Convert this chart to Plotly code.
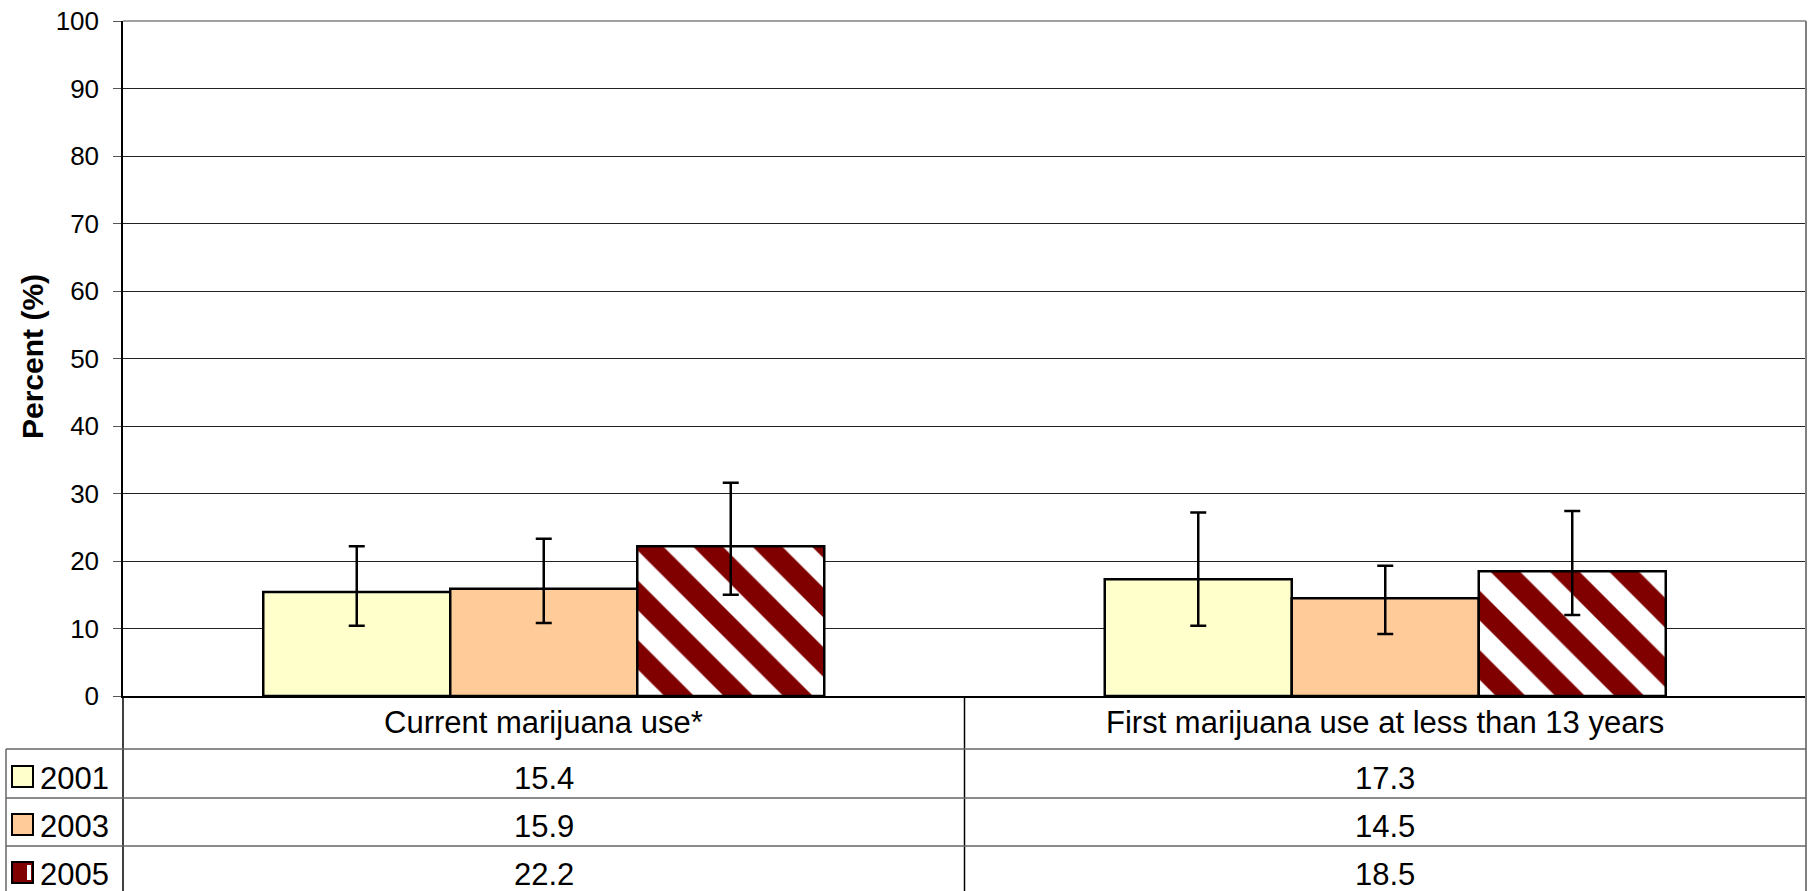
import plotly.graph_objects as go

categories = ["Current marijuana use*", "First marijuana use at less than 13 years"]
years = ["2001", "2003", "2005"]
values = {
    "2001": [15.4, 17.3],
    "2003": [15.9, 14.5],
    "2005": [22.2, 18.5],
}
ci_upper = {
    "2001": [22.2, 27.2],
    "2003": [23.3, 19.3],
    "2005": [31.6, 27.4],
}
ci_lower = {
    "2001": [10.4, 10.4],
    "2003": [10.8, 9.2],
    "2005": [15.0, 12.0],
}
y_ticks = [0, 10, 20, 30, 40, 50, 60, 70, 80, 90, 100]

FONT = "Liberation Sans, Arial, sans-serif"
W, H = 1813, 891
L, R, T, B = 123, 7, 21, 195
PW, PH = W - L - R, H - T - B
TFS = 31


def px(xpix):
    return (xpix - L) / PW


def py(ypix):
    return (T + PH - ypix) / PH


fig = go.Figure()
styles = {
    "2001": dict(color="#FFFFCC"),
    "2003": dict(color="#FFCC99"),
    "2005": dict(color="white", pattern=dict(shape="\\", fgcolor="#800000", bgcolor="white",
                                              size=42, solidity=0.5, fillmode="replace")),
}
for yr in years:
    v = values[yr]
    up = [u - a for u, a in zip(ci_upper[yr], v)]
    lo = [a - l for l, a in zip(ci_lower[yr], v)]
    fig.add_trace(go.Bar(
        x=categories, y=v, name=yr,
        marker=dict(**styles[yr], line=dict(color="black", width=2.5)),
        error_y=dict(type="data", symmetric=False, array=up, arrayminus=lo,
                     color="black", thickness=2.5, width=8),
    ))

shapes = []
line_black = dict(color="black", width=1.5)
line_grey = dict(color="#666666", width=1.5)
bottom = py(H + 2)
# outer right border (plot + table)
shapes.append(dict(type="line", xref="paper", yref="paper", x0=1, x1=1, y0=1, y1=bottom, line=dict(color="#808080", width=2)))
# top border
shapes.append(dict(type="line", xref="paper", yref="paper", x0=0, x1=1, y0=1, y1=1, line=dict(color="#808080", width=1.5)))
# left axis extension through table
shapes.append(dict(type="line", xref="paper", yref="paper", x0=0, x1=0, y0=0, y1=bottom, line=line_black))
# category divider
shapes.append(dict(type="line", xref="paper", yref="paper", x0=0.5, x1=0.5, y0=0, y1=bottom, line=line_black))
# table left edge
shapes.append(dict(type="line", xref="paper", yref="paper", x0=px(6), x1=px(6), y0=py(749), y1=bottom, line=line_grey))
# row lines
for rowy in [749, 798, 846]:
    shapes.append(dict(type="line", xref="paper", yref="paper", x0=px(6), x1=1, y0=py(rowy), y1=py(rowy), line=line_grey))

annotations = []
# category labels
for i, c in enumerate(categories):
    annotations.append(dict(x=c, xref="x", y=py(722), yref="paper", text=c, showarrow=False,
                            xanchor="center", yanchor="middle", font=dict(family=FONT, size=TFS, color="black")))
# table rows
row_centers = [778, 826, 874]
legend_colors = {"2001": "#FFFFCC", "2003": "#FFCC99", "2005": "#800000"}
for r, yr in enumerate(years):
    yc = row_centers[r]
    for i, c in enumerate(categories):
        annotations.append(dict(x=c, xref="x", y=py(yc), yref="paper", text=f"{values[yr][i]:.1f}",
                                showarrow=False, xanchor="center", yanchor="middle",
                                font=dict(family=FONT, size=TFS, color="black")))
    annotations.append(dict(x=px(38), xref="paper", y=py(yc), yref="paper", text=yr, showarrow=False,
                            xanchor="left", yanchor="middle", font=dict(family=FONT, size=TFS, color="black")))
    sq_top = yc - 12
    shapes.append(dict(type="rect", xref="paper", yref="paper", x0=px(12), x1=px(33), y0=py(sq_top + 21), y1=py(sq_top),
                       fillcolor=legend_colors[yr], line=dict(color="black", width=2)))
    if yr == "2005":
        shapes.append(dict(type="rect", xref="paper", yref="paper", x0=px(27), x1=px(31), y0=py(sq_top + 18), y1=py(sq_top + 3),
                           fillcolor="white", line=dict(width=0)))

# y-axis title
annotations.append(dict(x=px(32), xref="paper", y=py(357), yref="paper", text="<b>Percent (%)</b>", textangle=-90,
                        showarrow=False, xanchor="center", yanchor="middle", font=dict(family=FONT, size=30, color="black")))

fig.update_layout(
    width=W, height=H,
    margin=dict(l=L, r=R, t=T, b=B, pad=0),
    plot_bgcolor="white", paper_bgcolor="white",
    barmode="group", bargap=1/3, bargroupgap=0,
    showlegend=False,
    shapes=shapes, annotations=annotations,
    font=dict(family=FONT, color="black"),
    xaxis=dict(showticklabels=False, ticks="", showline=True, linecolor="black", linewidth=1.5,
               showgrid=False, zeroline=False, fixedrange=True),
    yaxis=dict(range=[0, 100], tickvals=y_ticks, ticks="outside", ticklen=8, tickcolor="#555555",
               tickfont=dict(family=FONT, size=26, color="black"), ticklabelstandoff=9,
               showgrid=True, gridcolor="#222222", gridwidth=1, zeroline=False,
               showline=True, linecolor="black", linewidth=1.5),
)

fig.write_html("out.html", config={"displayModeBar": False},
               post_script="document.body.style.margin='0';document.body.style.overflow='hidden';")
